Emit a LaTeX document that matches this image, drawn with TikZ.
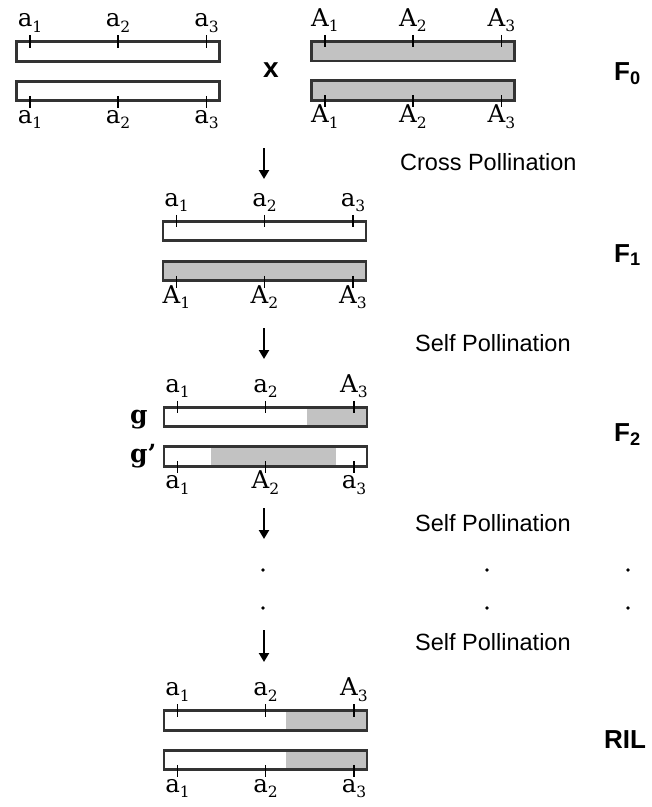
\documentclass[tikz,border=0pt]{standalone}
\usepackage{fontspec}
\usetikzlibrary{calc,arrows.meta}
\newfontfamily\allelefont{DejaVu Serif}
\newfontfamily\labelfont{Liberation Sans}
\newcommand{\bigsize}{\fontsize{23.5}{27}\selectfont}
\newcommand{\allelesub}[1]{\raisebox{-0.22em}{\fontsize{15.5}{18}\selectfont#1}}
% ticks and allele names above / below a chromosome
\newcommand{\ticksup}[4]{%
  \foreach \tx/\al [count=\i] in {13.5/#2,101.5/#3,190/#4}{
    \draw[tick] ($(#1.north west)+(\tx,-6.5)$) -- ++(0,12.5);
    \node[allele] at ($(#1.north west)+(\tx,-15)$) {\al\allelesub{\i}};
  }}
\newcommand{\ticksdown}[4]{%
  \foreach \tx/\al [count=\i] in {13.5/#2,101.5/#3,190/#4}{
    \draw[tick] ($(#1.south west)+(\tx,-5)$) -- ++(0,12);
    \node[allele] at ($(#1.south west)+(\tx,22.5)$) {\al\allelesub{\i}};
  }}
\begin{document}
\begin{tikzpicture}[x=1pt,y=-1pt,
chrom/.style={draw=black!80,line width=2.8pt,rectangle,fill=white,minimum width=203pt,minimum height=19.5pt,inner sep=0pt,outer sep=0pt},
donor/.style={fill=black!24},
shade/.style 2 args={path picture={\fill[black!24] ([xshift=#1]path picture bounding box.south west) rectangle ([xshift=#2]path picture bounding box.north west);}},
tick/.style={line width=1.9pt},
allele/.style={font=\allelefont\fontsize{24.5}{28}\selectfont,inner sep=0pt,anchor=base},
gen/.style={font=\labelfont\bfseries\fontsize{26}{30}\selectfont,inner sep=0pt,anchor=base west},
poll/.style={font=\labelfont\bigsize,inner sep=0pt,anchor=base west},
gamete/.style={font=\allelefont\bfseries\fontsize{25}{30}\selectfont,inner sep=0pt,anchor=base west},
genarrow/.style={line width=2.8pt,-{Triangle[width=10pt,length=9pt]}}]
\useasboundingbox (0,0) rectangle (652,807);
% F0: the two parents
\node[chrom] (p1a) at (118,51.5) {};
\node[chrom] (p1b) at (118,91) {};
\node[chrom,donor] (p2a) at (413,51.2) {};
\node[chrom,donor] (p2b) at (413,90.5) {};
\ticksup{p1a}{a}{a}{a}
\ticksdown{p1b}{a}{a}{a}
\ticksup{p2a}{A}{A}{A}
\ticksdown{p2b}{A}{A}{A}
\node[font=\labelfont\bfseries\fontsize{28}{32}\selectfont,inner sep=0pt] (cross) at (271,70) {x};
\node[gen] (f0) at (614,80) {F\textsubscript{0}};
% cross pollination
\coordinate (s1) at (264,148);
\coordinate (e1) at (264,179);
\draw[genarrow] (s1) -- (e1);
\node[poll] (cp) at (400,170) {Cross Pollination};
% F1
\node[chrom] (f1a) at (264.5,231) {};
\node[chrom,donor] (f1b) at (264.5,271) {};
\ticksup{f1a}{a}{a}{a}
\ticksdown{f1b}{A}{A}{A}
\node[gen] (f1) at (614,262) {F\textsubscript{1}};
% self pollination
\coordinate (s2) at (264,328);
\coordinate (e2) at (264,359);
\draw[genarrow] (s2) -- (e2);
\node[poll] (sp1) at (415,351) {Self Pollination};
% F2
\node[chrom,shade={143pt}{203pt}] (f2a) at (265.5,417) {};
\node[chrom,shade={47pt}{172pt}] (f2b) at (265.5,456.5) {};
\ticksup{f2a}{a}{a}{A}
\ticksdown{f2b}{a}{A}{a}
\node[gamete] (g) at (130,423) {g};
\node[gamete] (gp) at (130,462) {g’};
\node[gen] (f2) at (614,441) {F\textsubscript{2}};
% further selfings
\coordinate (s3) at (264,508);
\coordinate (e3) at (264,539);
\draw[genarrow] (s3) -- (e3);
\node[poll] (sp2) at (415,531) {Self Pollination};
\foreach \xx in {263,487,628}
  \foreach \yy in {570,608}
    \fill (\xx,\yy) circle (1.8pt);
\coordinate (s4) at (264,630);
\coordinate (e4) at (264,662);
\draw[genarrow] (s4) -- (e4);
\node[poll] (sp3) at (415,650) {Self Pollination};
% RIL
\node[chrom,shade={122pt}{203pt}] (ra) at (265.5,720.5) {};
\node[chrom,shade={122pt}{203pt}] (rb) at (265.5,760) {};
\ticksup{ra}{a}{a}{A}
\ticksdown{rb}{a}{a}{a}
\node[gen] (ril) at (604,748) {RIL};
\end{tikzpicture}
\end{document}
